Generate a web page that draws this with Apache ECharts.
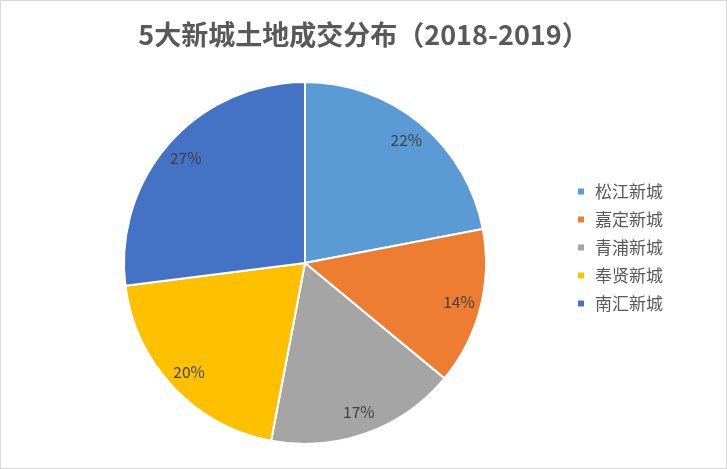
<!DOCTYPE html>
<html><head><meta charset="utf-8">
<script src="https://cdn.jsdelivr.net/npm/echarts@6/dist/echarts.min.js"></script>
<style>html,body{margin:0;padding:0;background:#fff}#c{width:727px;height:469px;box-sizing:border-box;border:1px solid #d9d9d9}</style>
</head><body><div id="c"></div>
<script>
const titleText = '5大新城土地成交分布（2018-2019）';
const categories = ['松江新城','嘉定新城','青浦新城','奉贤新城','南汇新城'];
const values = [22, 14, 17, 20, 27];
const colors = ['#5B9BD5','#ED7D31','#A5A5A5','#FFC000','#4472C4'];

const data = categories.map((n,i)=>({name:n, value:values[i]}));
const chart = echarts.init(document.getElementById('c'));
const font = '"Noto Sans CJK SC", "Noto Sans", sans-serif';
chart.setOption({
  animation:false,
  color: colors,
  title:{text:titleText, left:'center', top:15, textStyle:{fontFamily:font, fontSize:27, fontWeight:'bold', color:'#595959'}},
  legend:{orient:'vertical', left:570, top:177, itemWidth:8, itemHeight:8, itemGap:11, icon:'rect',
    textStyle:{fontFamily:font, fontSize:17, color:'#595959', lineHeight:17, padding:[0,0,0,5]}},
  series:[
    {type:'pie', center:[304,262], radius:[0,181], startAngle:90, clockwise:true, data:data,
     label:{show:false}, labelLine:{show:false}, itemStyle:{borderColor:'#fff', borderWidth:2}, emphasis:{disabled:true}},
    {type:'pie', center:[304,262], radius:[131,181], startAngle:90, clockwise:true, data:data, silent:true,
     itemStyle:{color:'rgba(0,0,0,0)'}, legendHoverLink:false,
     label:{show:true, position:'inside', formatter:'{c}%', fontFamily:font, fontSize:15.5, color:'#404040'},
     labelLine:{show:false}, emphasis:{disabled:true}}
  ]
});
</script></body></html>
